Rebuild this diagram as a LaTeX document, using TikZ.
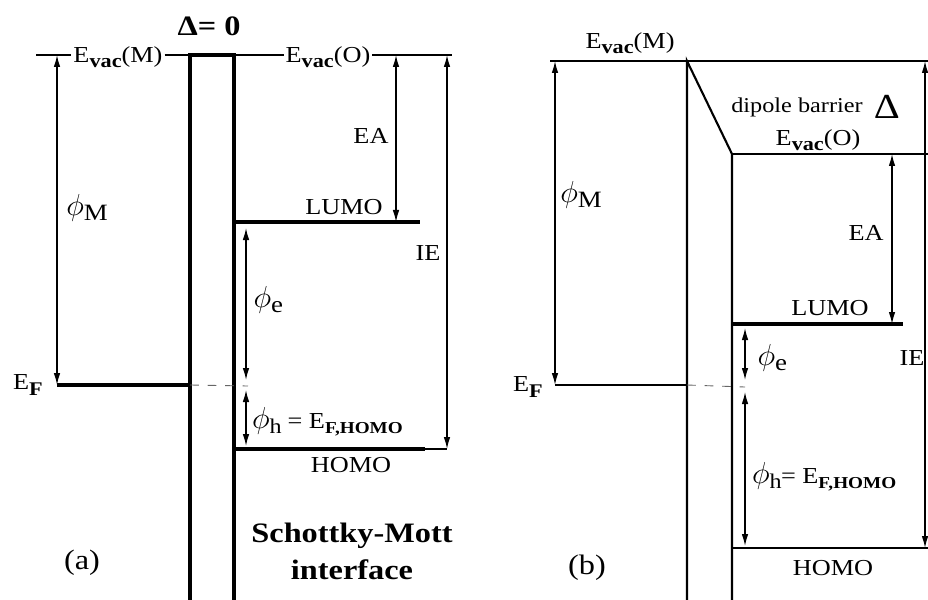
\documentclass[tikz,border=0pt]{standalone}
\usepackage{fontspec}
\setmainfont{Liberation Serif}[FakeStretch=1.15]
\usetikzlibrary{arrows.meta,positioning}
\tikzset{
band/.style={line width=1.9pt},
edge/.style={line width=1.2pt},
vac/.style={line width=0.8pt},
gap/.style={{Latex[length=2.4mm,width=1.3mm]}-{Latex[length=2.4mm,width=1.3mm]},line width=0.7pt},
fermi/.style={dash pattern=on 5pt off 5pt,line width=0.5pt,black!60},
lbl/.style={font=\fontsize{13}{15}\selectfont,inner sep=1pt},
sym/.style={font=\fontsize{19}{21}\selectfont,inner sep=1pt},
tag/.style={font=\fontsize{16}{18}\selectfont,inner sep=1pt},
note/.style={font=\bfseries\fontsize{16}{21}\selectfont,align=center,inner sep=1pt}
}
\newcommand{\Evac}[1]{E\raisebox{-0.45ex}{\fontsize{11}{12}\selectfont\bfseries vac}(#1)}
\newcommand{\Ef}{E\raisebox{-0.5ex}{\fontsize{11}{12}\selectfont\bfseries F}}
\newcommand{\EFH}{E\raisebox{-0.45ex}{\fontsize{9.5}{10}\selectfont\bfseries F,HOMO}}
\begin{document}
\begin{tikzpicture}[x=0.2mm,y=-0.2mm]
\useasboundingbox (0,0) rectangle (928,600);
\coordinate (aVacL) at (36,55);
\coordinate (aVacR) at (452,55);
\coordinate (aBarL) at (190,55);
\coordinate (aBarR) at (234,55);
\coordinate (aBarLb) at (190,600);
\coordinate (aBarRb) at (234,600);
\coordinate (aEF) at (57,385);
\coordinate (aLumo) at (234,222);
\coordinate (aLumoR) at (420,222);
\coordinate (aHomo) at (234,449);
\coordinate (aHomoR) at (425,449);
\coordinate (aIE) at (447,449);
\coordinate (aEA) at (396,222);
\coordinate (aGapT) at (246,228);
\coordinate (aGapM) at (246,380);
\coordinate (aGapN) at (246,390);
\coordinate (aGapB) at (246,446);
\coordinate (aDash) at (248,386);
\node[note] (aDelta) at (209,26) {Δ= 0};
\node[lbl] (aEvacM) at (118,57) {\Evac{M}};
\node[lbl] (aEvacO) at (328,57) {\Evac{O}};
\draw[vac] (aVacL) -- (aVacL -| aEvacM.west) (aVacL -| aEvacM.east) -- (aBarL);
\draw[vac] (aBarR) -- (aBarR -| aEvacO.west) (aBarR -| aEvacO.east) -- (aVacR);
\draw[band] (aBarLb) -- (aBarL) -- (aBarR) -- (aBarRb);
\draw[band] (aEF) -- (aEF -| aBarL);
\draw[band] (aLumo) -- (aLumoR);
\draw[band] (aHomo) -- (aHomoR);
\draw[vac] (aHomoR) -- (aIE);
\draw[fermi] (aEF -| aBarL) -- (aDash);
\draw[gap] (aEF |- aVacL) -- (aEF);
\draw[gap] (aEA |- aVacR) -- (aEA);
\draw[gap] (aIE |- aVacR) -- (aIE);
\draw[gap] (aGapT) -- (aGapM);
\draw[gap] (aGapN) -- (aGapB);
\node[sym] (aPhiM) at (86,208) {$\phi_{\mathrm{M}}$};
\node[lbl] (aEFl) at (28,385) {\Ef};
\node[lbl] (aLumol) at (344,207) {LUMO};
\node[lbl] (aHomol) at (351,465) {HOMO};
\node[lbl] (aEAl) at (371,136) {EA};
\node[lbl] (aIEl) at (428,253) {IE};
\node[sym] (aPhiE) at (268,300) {$\phi_{\mathrm{e}}$};
\node[lbl,anchor=west] (aPhiH) at (250,422) {{\fontsize{17}{18}\selectfont$\phi_{\mathrm{h}}$} = \EFH};
\node[note] (aSM) at (352,551) {Schottky-Mott\\interface};
\node[tag] (aTag) at (82,563) {(a)};
\coordinate (bVacL) at (550,61);
\coordinate (bVacR) at (928,61);
\coordinate (bMet) at (687,61);
\coordinate (bMetB) at (687,600);
\coordinate (bOrg) at (732,154);
\coordinate (bOrgB) at (732,600);
\coordinate (bVacOR) at (928,154);
\coordinate (bEF) at (555,385);
\coordinate (bLumo) at (732,324);
\coordinate (bLumoR) at (903,324);
\coordinate (bHomo) at (732,548);
\coordinate (bHomoR) at (928,548);
\coordinate (bEA) at (892,324);
\coordinate (bIE) at (925,548);
\coordinate (bGapT) at (745,328);
\coordinate (bGapM) at (745,380);
\coordinate (bGapN) at (745,392);
\coordinate (bGapB) at (745,546);
\coordinate (bDash) at (745,387);
\draw[vac] (bVacL) -- (bVacR);
\draw[edge] (bMetB) -- (bMet) -- (bOrg) -- (bOrgB);
\draw[vac] (bOrg) -- (bVacOR);
\draw[edge] (bEF) -- (bEF -| bMet);
\draw[band] (bLumo) -- (bLumoR);
\draw[edge] (bHomo) -- (bHomoR);
\draw[fermi] (bEF -| bMet) -- (bDash);
\draw[gap] (bEF |- bVacL) -- (bEF);
\draw[gap] (bEA |- bVacOR) -- (bEA);
\draw[gap] (bIE |- bVacR) -- (bIE);
\draw[gap] (bGapT) -- (bGapM);
\draw[gap] (bGapN) -- (bGapB);
\node[lbl] (bEvacM) at (630,43) {\Evac{M}};
\node[lbl,font=\fontsize{12}{13}\selectfont] (bDip) at (797,107) {dipole barrier};
\node[lbl,font=\fontsize{20}{22}\selectfont,right=4pt of bDip] (bDelta) {Δ};
\node[lbl] (bEvacO) at (818,140) {\Evac{O}};
\node[sym] (bPhiM) at (580,195) {$\phi_{\mathrm{M}}$};
\node[lbl] (bEFl) at (528,387) {\Ef};
\node[lbl] (bLumol) at (830,308) {LUMO};
\node[lbl] (bEAl) at (866,233) {EA};
\node[lbl] (bIEl) at (912,358) {IE};
\node[sym] (bPhiE) at (772,358) {$\phi_{\mathrm{e}}$};
\node[lbl,anchor=west] (bPhiH) at (750,477) {{\fontsize{17}{18}\selectfont$\phi_{\mathrm{h}}$}= \EFH};
\node[lbl] (bHomol) at (833,568) {HOMO};
\node[tag] (bTag) at (587,568) {(b)};
\end{tikzpicture}
\end{document}
